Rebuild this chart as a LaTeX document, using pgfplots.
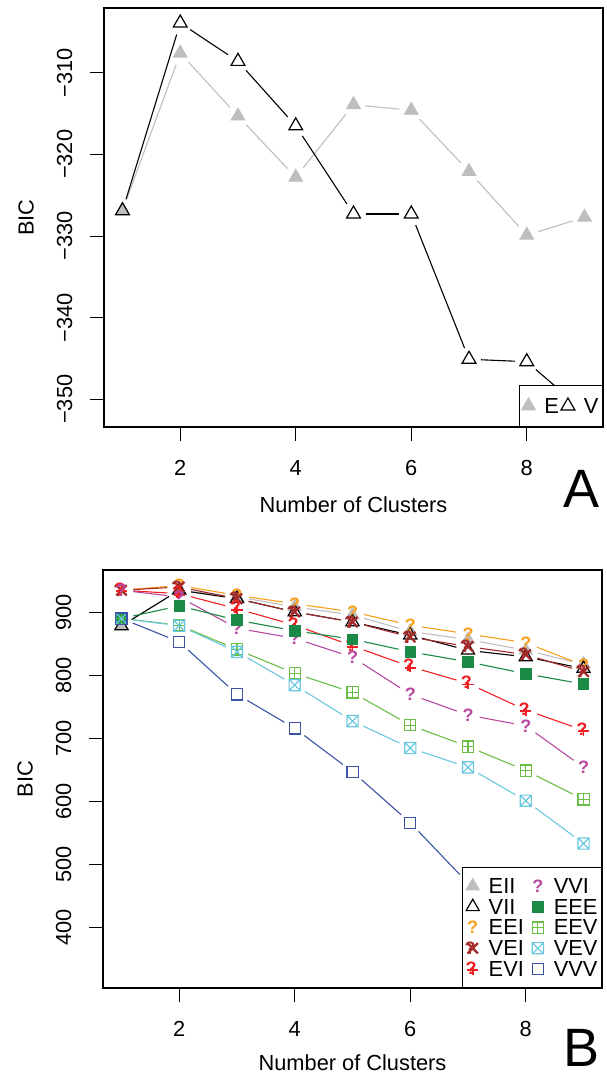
\documentclass[border=0pt]{standalone}
\usepackage{fontspec}
\setmainfont{Liberation Sans}
\usepackage{pgfplots}
\pgfplotsset{compat=1.18}
\usepackage{pgfplotstable}

\definecolor{eii}{HTML}{BEBEBE}
\definecolor{eei}{HTML}{F9A01B}
\definecolor{vei}{HTML}{A52A2A}
\definecolor{evi}{HTML}{EE2024}
\definecolor{vvi}{HTML}{B8489F}
\definecolor{eee}{HTML}{1A8A46}
\definecolor{eev}{HTML}{6ABD45}
\definecolor{vev}{HTML}{69C7DE}
\definecolor{vvv}{HTML}{3A53A4}

% panel A: BIC for E / V
\pgfplotstableread{
G E V
1 -326.9 -326.9
2 -307.6 -303.9
3 -315.3 -308.6
4 -322.8 -316.5
5 -313.9 -327.3
6 -314.6 -327.3
7 -322.1 -345.1
8 -329.9 -345.4
9 -327.7 -351.5
}\tabA

% panel B: BIC for the ten models
\pgfplotstableread{
G EII VII EEI VEI EVI VVI EEE EEV VEV VVV
1 878.8 878.8 935.4 935.4 935.4 935.4 890.5 890.5 890.5 890.5
2 935.5 935.5 943.0 940.6 930.0 924.7 910.5 880.0 879.0 853.4
3 925.0 922.0 927.4 922.0 906.0 875.0 888.0 841.3 837.6 770.0
4 909.0 901.0 914.0 901.0 880.0 859.0 871.0 803.3 784.7 716.0
5 896.0 885.0 901.0 885.0 847.0 829.0 857.7 773.0 727.5 647.0
6 870.0 864.0 880.0 861.0 814.0 770.0 837.6 721.0 684.7 566.0
7 857.0 840.0 866.0 846.0 787.4 737.0 821.7 687.0 654.0 470.0
8 840.0 829.5 852.0 833.0 745.0 720.0 802.7 649.0 601.0 400.0
9 818.0 811.0 816.0 806.0 713.0 654.0 786.3 603.0 533.0 328.0
}\tabB

\newcommand\qfont{\fontsize{9}{9}\selectfont\bfseries}
\pgfdeclareplotmark{qeei}{\pgftext{\color{eei}\qfont ?}}
\pgfdeclareplotmark{qvvi}{\pgftext{\color{vvi}\qfont ?}}
\pgfdeclareplotmark{xq}{%
  \pgfsetlinewidth{1.1pt}%
  \pgfpathmoveto{\pgfqpoint{-\pgfplotmarksize}{-\pgfplotmarksize}}%
  \pgfpathlineto{\pgfqpoint{\pgfplotmarksize}{\pgfplotmarksize}}%
  \pgfpathmoveto{\pgfqpoint{-\pgfplotmarksize}{\pgfplotmarksize}}%
  \pgfpathlineto{\pgfqpoint{\pgfplotmarksize}{-\pgfplotmarksize}}%
  \pgfusepathqstroke
  \pgftext[x=-0.5\pgfplotmarksize]{\color{vei}\qfont ?}}
\pgfdeclareplotmark{pq}{%
  \pgfsetlinewidth{0.9pt}%
  \pgfpathmoveto{\pgfqpoint{-\pgfplotmarksize}{-0.2\pgfplotmarksize}}%
  \pgfpathlineto{\pgfqpoint{\pgfplotmarksize}{-0.2\pgfplotmarksize}}%
  \pgfpathmoveto{\pgfqpoint{0pt}{-\pgfplotmarksize}}%
  \pgfpathlineto{\pgfqpoint{0pt}{0.6\pgfplotmarksize}}%
  \pgfusepathqstroke
  \pgftext[x=-0.3\pgfplotmarksize,y=0.2\pgfplotmarksize]{\color{evi}\qfont ?}}
\pgfdeclareplotmark{sqplus}{%
  \pgfpathrectangle{\pgfqpoint{-\pgfplotmarksize}{-\pgfplotmarksize}}{\pgfqpoint{2\pgfplotmarksize}{2\pgfplotmarksize}}%
  \pgfpathmoveto{\pgfqpoint{-\pgfplotmarksize}{0pt}}\pgfpathlineto{\pgfqpoint{\pgfplotmarksize}{0pt}}%
  \pgfpathmoveto{\pgfqpoint{0pt}{-\pgfplotmarksize}}\pgfpathlineto{\pgfqpoint{0pt}{\pgfplotmarksize}}%
  \pgfusepathqstroke}
\pgfdeclareplotmark{sqtimes}{%
  \pgfpathrectangle{\pgfqpoint{-\pgfplotmarksize}{-\pgfplotmarksize}}{\pgfqpoint{2\pgfplotmarksize}{2\pgfplotmarksize}}%
  \pgfpathmoveto{\pgfqpoint{-\pgfplotmarksize}{-\pgfplotmarksize}}\pgfpathlineto{\pgfqpoint{\pgfplotmarksize}{\pgfplotmarksize}}%
  \pgfpathmoveto{\pgfqpoint{-\pgfplotmarksize}{\pgfplotmarksize}}\pgfpathlineto{\pgfqpoint{\pgfplotmarksize}{-\pgfplotmarksize}}%
  \pgfusepathqstroke}

% lines with a gap round each point (R type="b"): one short plot per segment
\newcommand\gapsize{6pt}
\newcommand{\gapline}[3]{%
  \pgfplotsforeachungrouped \ii in {0,...,7}{%
    \pgfmathtruncatemacro\jj{\ii+2}%
    \edef\temp{\noexpand\addplot[#3, mark=none, line width=0.55pt, forget plot,
      shorten <=\gapsize, shorten >=\gapsize]
      table[x=G, y=#2, skip coords between index={0}{\ii},
      skip coords between index={\jj}{9}] {\noexpand#1};}%
    \temp}}

\pgfplotsset{
  mk/.style={only marks, mark options={solid},
    legend image code/.code={\path[draw=none, fill=none] (-3pt,-3pt) rectangle (7pt,3pt);
      \draw[##1] plot coordinates {(0pt,0pt)};}},
  panel/.style={scale only axis, width=249.5pt, height=209.5pt,
    xmin=0.68, xmax=9.32, xtick={2,4,6,8}, xticklabels={2,4,6,8},
    tick align=outside, xtick pos=bottom, ytick pos=left,
    major tick length=7pt, tick style={line width=0.5pt, black},
    axis line style={line width=0.6pt},
    xticklabel shift=6pt, yticklabel shift=5pt,
    yticklabel style={rotate=90, anchor=south},
    xlabel={Number of Clusters}, ylabel={BIC},
    ylabel style={at={(axis description cs:-0.156,0.5)}, anchor=center},
    legend cell align=left},
}

\begin{document}
\fontsize{10.9}{13}\selectfont
\begin{tikzpicture}
\path[use as bounding box] (0,0) rectangle (303pt,536pt);

\begin{axis}[panel, at={(52pt,322.5pt)}, anchor=south west,
    ymin=-353.4, ymax=-302.06,
    ytick={-350,-340,-330,-320,-310},
    yticklabels={−350,−340,−330,−320,−310},
    xlabel style={at={(axis description cs:0.5,-0.186)}, anchor=center},
    legend columns=2,
    legend style={at={(rel axis cs:1,0)}, anchor=south east, draw=black,
      line width=0.5pt, inner xsep=1pt, inner ysep=5.1pt,
      nodes={inner xsep=1pt, inner ysep=1pt, text height=7.9pt, text depth=0.45pt}},
    after end axis/.code={\node[font=\fontsize{27}{27}\selectfont] at (rel axis cs:0.956,-0.148) {A};}]
\gapline{\tabA}{E}{color=eii}
\addplot[mk, color=eii, mark=triangle*, mark size=4pt, mark options={fill=eii}] table[x=G, y=E] {\tabA};
\addlegendentry{E}
\gapline{\tabA}{V}{color=black}
\addplot[mk, color=black, mark=triangle, mark size=4pt, mark options={line width=0.6pt}] table[x=G, y=V] {\tabA};
\addlegendentry{V}
\end{axis}

\begin{axis}[panel, at={(51.5pt,42pt)}, anchor=south west, height=209pt,
    ymin=303.4, ymax=967.6,
    ytick={400,500,600,700,800,900},
    yticklabels={400,500,600,700,800,900},
    xlabel style={at={(axis description cs:0.5,-0.178)}, anchor=center},
    legend columns=5, transpose legend,
    legend style={at={(rel axis cs:1,0)}, anchor=south east, draw=black,
      line width=0.5pt, inner xsep=1pt, inner ysep=4.1pt,
      /tikz/every even column/.append style={column sep=3pt},
      nodes={inner xsep=1pt, inner ysep=1pt, text height=7.9pt, text depth=0.45pt}},
    after end axis/.code={\node[font=\fontsize{27}{27}\selectfont] at (rel axis cs:0.958,-0.144) {B};}]
\gapline{\tabB}{EII}{color=eii}
\addplot[mk, color=eii, mark=triangle*, mark size=3.8pt, mark options={fill=eii}] table[x=G, y=EII] {\tabB};
\addlegendentry{EII}
\gapline{\tabB}{VII}{color=black}
\addplot[mk, color=black, mark=triangle, mark size=3.8pt, mark options={line width=0.6pt}] table[x=G, y=VII] {\tabB};
\addlegendentry{VII}
\gapline{\tabB}{EEI}{color=eei}
\addplot[mk, color=eei, mark=qeei] table[x=G, y=EEI] {\tabB};
\addlegendentry{EEI}
\gapline{\tabB}{VEI}{color=vei}
\addplot[mk, color=vei, mark=xq, mark size=2.6pt] table[x=G, y=VEI] {\tabB};
\addlegendentry{VEI}
\gapline{\tabB}{EVI}{color=evi}
\addplot[mk, color=evi, mark=pq, mark size=2.8pt] table[x=G, y=EVI] {\tabB};
\addlegendentry{EVI}
\gapline{\tabB}{VVI}{color=vvi}
\addplot[mk, color=vvi, mark=qvvi] table[x=G, y=VVI] {\tabB};
\addlegendentry{VVI}
\gapline{\tabB}{EEE}{color=eee}
\addplot[mk, color=eee, mark=square*, mark size=2.6pt, mark options={fill=eee}] table[x=G, y=EEE] {\tabB};
\addlegendentry{EEE}
\gapline{\tabB}{EEV}{color=eev}
\addplot[mk, color=eev, mark=sqplus, mark size=2.8pt, mark options={line width=0.6pt}] table[x=G, y=EEV] {\tabB};
\addlegendentry{EEV}
\gapline{\tabB}{VEV}{color=vev}
\addplot[mk, color=vev, mark=sqtimes, mark size=2.8pt, mark options={line width=0.6pt}] table[x=G, y=VEV] {\tabB};
\addlegendentry{VEV}
\gapline{\tabB}{VVV}{color=vvv}
\addplot[mk, color=vvv, mark=square, mark size=2.8pt, mark options={line width=0.6pt}] table[x=G, y=VVV] {\tabB};
\addlegendentry{VVV}
\end{axis}
\end{tikzpicture}
\end{document}
